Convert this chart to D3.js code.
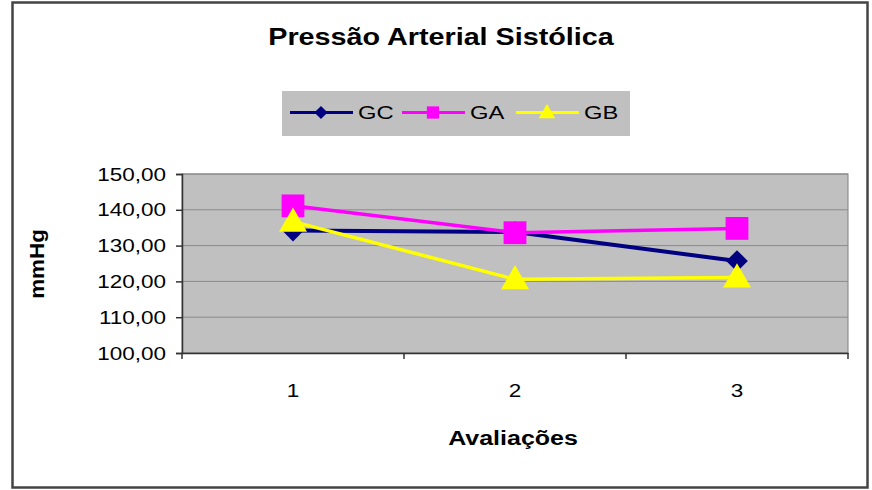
<!DOCTYPE html>
<html><head><meta charset="utf-8">
<script src="https://cdn.jsdelivr.net/npm/d3@7"></script>
<style>body{margin:0;background:#fff;} svg{display:block;font-family:"Liberation Sans",Arial,sans-serif;}</style>
</head><body>
<svg id="c" width="872" height="490"></svg>
<script>
const categories = ["1", "2", "3"];
const seriesNames = ["GC", "GA", "GB"];
const gcValues = [134.2, 133.8, 125.7];
const gaValues = [141.1, 133.6, 134.8];
const gbValues = [136.7, 120.6, 121.1];
const yTicks = [100, 110, 120, 130, 140, 150];
const colors = ["#000080", "#ff00ff", "#ffff00"];
const markers = ["diamond", "square", "triangle"];

const SX = 1.25;
const svg = d3.select("#c");
const m = {l:182, r:848, t:174, b:353};

// outer frame
svg.append("rect").attr("x",12.5).attr("y",2.5).attr("width",855).attr("height",485)
  .attr("fill","#fff").attr("stroke","#444").attr("stroke-width",2.5);

const x = d3.scaleBand().domain(categories).range([m.l, m.r]).padding(0);
const y = d3.scaleLinear().domain([100,150]).range([m.b, m.t]);

function stext(px, py, str, size, anchor, bold, rot) {
  return svg.append("text")
    .attr("transform", `translate(${px},${py})${rot?` rotate(${rot})`:""} scale(${SX},1)`)
    .attr("text-anchor", anchor).attr("font-size", size)
    .attr("font-weight", bold ? "bold" : "normal").attr("fill", "#000").text(str);
}

// plot bg
svg.append("rect").attr("x",m.l).attr("y",m.t).attr("width",m.r-m.l).attr("height",m.b-m.t)
  .attr("fill","#c0c0c0").attr("stroke","#808080").attr("stroke-width",1);

// gridlines
svg.append("g").selectAll("line").data(yTicks).join("line")
  .attr("x1",m.l).attr("x2",m.r).attr("y1",d=>y(d)).attr("y2",d=>y(d))
  .attr("stroke","#8a8a8a").attr("stroke-width",1);

const fmt = d => d.toFixed(2).replace(".", ",");
const yAxis = svg.append("g").attr("transform",`translate(${m.l},0)`)
  .call(d3.axisLeft(y).tickValues(yTicks).tickFormat("").tickSize(6));
yAxis.select(".domain").attr("stroke","#333").attr("stroke-width",1.5);
yAxis.selectAll(".tick line").attr("stroke","#333").attr("stroke-width",1.5);
yTicks.forEach(t => stext(m.l - 16, y(t) + 6.5, fmt(t), 18, "end", false));

const xAxis = svg.append("g").attr("transform",`translate(0,${m.b})`)
  .call(d3.axisBottom(x).tickSize(0).tickFormat(""));
xAxis.select(".domain").attr("stroke","#333").attr("stroke-width",1.5);
categories.forEach(c => stext(x(c) + x.bandwidth()/2, 397, c, 18, "middle", false));
// category boundary ticks
const bounds = categories.map(c=>x(c)).concat([m.r]);
svg.append("g").selectAll("line").data(bounds).join("line")
  .attr("x1",d=>d).attr("x2",d=>d).attr("y1",m.b).attr("y2",m.b+6)
  .attr("stroke","#333").attr("stroke-width",1.5);

const sym = {
  diamond: d3.symbol().type(d3.symbolDiamond2).size(300),
  square: d3.symbol().type(d3.symbolSquare).size(520),
  triangle: d3.symbol().type(d3.symbolTriangle).size(340)
};
const legSym = {
  diamond: d3.symbol().type(d3.symbolDiamond2).size(110),
  square: d3.symbol().type(d3.symbolSquare).size(150),
  triangle: d3.symbol().type(d3.symbolTriangle).size(120)
};

const allData = [gcValues, gaValues, gbValues];
const cx = c => x(c) + x.bandwidth()/2;
const line = d3.line().x((d,i)=>cx(categories[i])).y(d=>y(d));
allData.forEach((vals,k)=>{
  const g = svg.append("g");
  g.append("path").attr("d", line(vals)).attr("fill","none")
    .attr("stroke",colors[k]).attr("stroke-width",k===0?4:3.5).attr("stroke-linejoin","round");
  g.selectAll("path.mk").data(vals).join("path").attr("class","mk")
    .attr("d", sym[markers[k]]())
    .attr("transform",(d,i)=>`translate(${cx(categories[i])},${y(d)+(markers[k]==="triangle"?2:0)})`)
    .attr("fill",colors[k]);
});

// title
stext(441, 45, "Pressão Arterial Sistólica", 23, "middle", true);

// legend
svg.append("rect").attr("x",282).attr("y",91).attr("width",348).attr("height",45).attr("fill","#c0c0c0");
const legX = [290, 402, 516];
seriesNames.forEach((n,k)=>{
  const lx = legX[k], ly = 112.5;
  svg.append("line").attr("x1",lx).attr("x2",lx+63).attr("y1",ly).attr("y2",ly)
    .attr("stroke",colors[k]).attr("stroke-width",3);
  svg.append("path").attr("d",legSym[markers[k]]()).attr("transform",`translate(${lx+31},${ly+(k===2?1:0)})`).attr("fill",colors[k]);
  stext(lx+68, ly+6.5, n, 19, "start", false);
});

// axis titles
stext(513, 445, "Avaliações", 20, "middle", true);
svg.append("text").attr("transform","translate(44,264) rotate(-90) scale(1.12,1)").attr("text-anchor","middle")
  .attr("font-size",20).attr("font-weight","bold").attr("fill","#000").text("mmHg");
</script>
</body></html>
